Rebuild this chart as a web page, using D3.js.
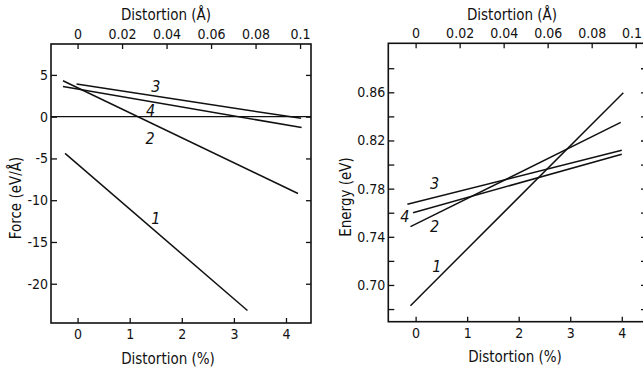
<!DOCTYPE html>
<html>
<head>
<meta charset="utf-8">
<script src="https://cdn.jsdelivr.net/npm/d3@7"></script>
<style>
  body { margin: 0; background: #fff; }
  text { font-family: "DejaVu Sans Condensed", "DejaVu Sans", sans-serif; font-stretch: condensed; fill: #111; }
  .tick line { stroke: #111; stroke-width: 1.3; }
  .tick text { font-size: 14px; }
</style>
</head>
<body>
<script>
// values
var pctPerAngstrom = 42.7;

// force curves: [distortion %, force eV/Å]
var force1 = [[-0.24, -4.4], [3.26, -23.2]];
var force2 = [[-0.28, 4.3], [4.23, -9.2]];
var force3 = [[-0.02, 3.9], [4.29, -0.2]];
var force4 = [[-0.28, 3.6], [4.30, -1.3]];
var forceLabels = [["1", 1.50, -12.1], ["2", 1.39, -2.55], ["3", 1.50, 3.7], ["4", 1.40, 0.72]];
var forceTicks = [5, 0, -5, -10, -15, -20];

// energy curves: [distortion %, energy eV]
var energy1 = [[-0.10, 0.6828], [4.03, 0.8597]];
var energy2 = [[-0.10, 0.7484], [3.98, 0.835]];
var energy3 = [[-0.16, 0.767], [4.00, 0.8119]];
var energy4 = [[-0.05, 0.760], [4.00, 0.8086]];
var energyLabels = [["1", 0.41, 0.7158], ["2", 0.37, 0.7484], ["3", 0.37, 0.7847], ["4", -0.21, 0.7567]];
var energyTicks = [0.68, 0.70, 0.72, 0.74, 0.76, 0.78, 0.80, 0.82, 0.84, 0.86, 0.88];
var energyLabelTicks = [0.70, 0.74, 0.78, 0.82, 0.86];

var pctTicks = [0, 1, 2, 3, 4];
var angTicks = [0, 0.02, 0.04, 0.06, 0.08, 0.1];

var svg = d3.select("body").append("svg")
    .attr("width", 643)
    .attr("height", 375);

function angFmt(d) {
    if (d === 0) return "0";
    if (Math.abs(d - 0.1) < 1e-9) return "0.1";
    return d.toFixed(2);
}

// plain hyphen for negatives, like the original
var intFmt = d => String(d);

function panel(opt) {
    var x = d3.scaleLinear().domain(opt.xDomain).range(opt.xRange);
    var y = d3.scaleLinear().domain(opt.yDomain).range(opt.yRange);
    var xa = d3.scaleLinear()
        .domain(opt.xDomain.map(d => d / pctPerAngstrom))
        .range(opt.xRange);

    var x0 = opt.xRange[0], x1 = opt.xRange[1];
    var yTop = opt.yRange[1], yBot = opt.yRange[0];

    // frame
    svg.append("rect")
        .attr("x", x0).attr("y", yTop)
        .attr("width", x1 - x0).attr("height", yBot - yTop)
        .attr("fill", "none")
        .attr("stroke", "#111")
        .attr("stroke-width", 1.6);

    // bottom axis
    svg.append("g")
        .attr("transform", `translate(0, ${yBot})`)
        .call(d3.axisBottom(x).tickValues(pctTicks).tickSize(-5).tickPadding(6).tickFormat(intFmt))
        .call(g => g.select(".domain").remove());

    // top axis (Å)
    var top = svg.append("g")
        .attr("transform", `translate(0, ${yTop})`)
        .call(d3.axisTop(xa).tickValues(angTicks).tickSize(-5).tickPadding(5).tickFormat(angFmt))
        .call(g => g.select(".domain").remove());

    // keep the last top label inside the page
    top.selectAll(".tick text").each(function () {
        var b = this.getBBox();
        var tx = +this.parentNode.getAttribute("transform").match(/translate\(([-\d.]+)/)[1];
        var over = tx + b.x + b.width - 642;
        if (over > 0) d3.select(this).attr("dx", -over);
    });

    // left axis
    svg.append("g")
        .attr("transform", `translate(${x0}, 0)`)
        .call(d3.axisLeft(y).tickValues(opt.yTicks).tickSize(-6).tickPadding(3)
            .tickFormat(opt.yFormat))
        .call(g => g.select(".domain").remove());

    // right axis (ticks only)
    svg.append("g")
        .attr("transform", `translate(${x1}, 0)`)
        .call(d3.axisRight(y).tickValues(opt.yTicks).tickSize(-5).tickFormat(""))
        .call(g => g.select(".domain").remove());

    if (opt.zeroLine) {
        svg.append("line")
            .attr("x1", x0).attr("x2", x1)
            .attr("y1", y(0)).attr("y2", y(0))
            .attr("stroke", "#111")
            .attr("stroke-width", 1.3);
    }

    var line = d3.line().x(d => x(d[0])).y(d => y(d[1]));
    opt.series.forEach(function (s) {
        svg.append("path")
            .attr("d", line(s))
            .attr("fill", "none")
            .attr("stroke", "#111")
            .attr("stroke-width", 1.5);
    });

    svg.selectAll(null)
        .data(opt.labels)
        .enter()
        .append("text")
        .attr("x", d => x(d[1]))
        .attr("y", d => y(d[2]))
        .attr("dy", "0.36em")
        .attr("text-anchor", "middle")
        .style("font-size", "16px")
        .style("font-style", "italic")
        .text(d => d[0]);

    // titles
    svg.append("text")
        .attr("x", opt.topTitleX).attr("y", 20)
        .attr("text-anchor", "middle")
        .style("font-size", "15px")
        .text("Distortion (Å)");

    svg.append("text")
        .attr("x", opt.bottomTitleX).attr("y", opt.bottomTitleY)
        .attr("text-anchor", "middle")
        .style("font-size", "15px")
        .text("Distortion (%)");

    svg.append("text")
        .attr("transform", `translate(${opt.yTitleX}, ${opt.yTitleY}) rotate(-90)`)
        .attr("text-anchor", "middle")
        .style("font-size", "15px")
        .text(opt.yTitle);
}

panel({
    xDomain: [-0.51, 4.48], xRange: [51, 311],
    yDomain: [-24.7, 8.7], yRange: [323, 44],
    yTicks: forceTicks,
    yFormat: intFmt,
    zeroLine: true,
    series: [force1, force2, force3, force4],
    labels: forceLabels,
    topTitleX: 166, bottomTitleX: 168, bottomTitleY: 364,
    yTitle: "Force (eV/Å)", yTitleX: 21, yTitleY: 198
});

var energyFmt = d => energyLabelTicks.some(v => Math.abs(v - d) < 1e-9) ? d.toFixed(2) : "";

panel({
    xDomain: [-0.53, 4.47], xRange: [388.3, 646],
    yDomain: [0.6695, 0.9007], yRange: [321.7, 43.3],
    yTicks: energyTicks,
    yFormat: energyFmt,
    zeroLine: false,
    series: [energy1, energy2, energy3, energy4],
    labels: energyLabels,
    topTitleX: 512, bottomTitleX: 515, bottomTitleY: 362,
    yTitle: "Energy (eV)", yTitleX: 351, yTitleY: 197
});
</script>
</body>
</html>
